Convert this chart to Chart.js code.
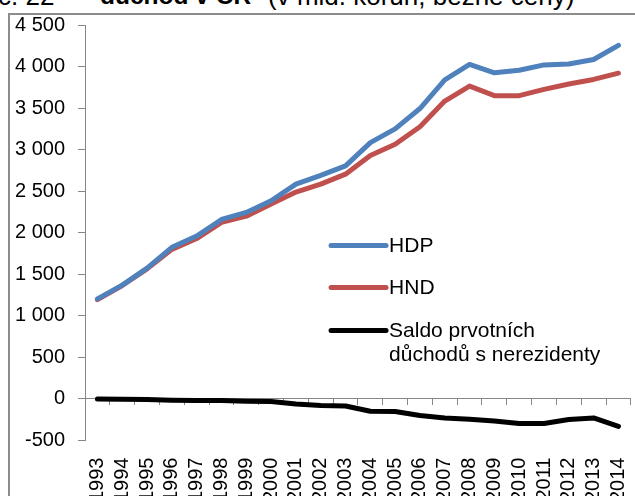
<!DOCTYPE html>
<html>
<head>
<meta charset="utf-8">
<script src="https://cdn.jsdelivr.net/npm/chart.js@4/dist/chart.umd.min.js"></script>
<style>
  html, body { margin: 0; padding: 0; background: #fff; width: 635px; height: 496px; overflow: hidden; }
  #wrap { position: relative; width: 635px; height: 496px; overflow: hidden; }
  #frame { position: absolute; left: 8px; top: 13px; width: 700px; height: 600px; border: 2px solid #8c8c8c; box-sizing: border-box; }
  #title { position: absolute; top: -17px; left: 0; width: 700px; height: 30px; font-family: 'Liberation Sans', Arial, sans-serif; font-size: 26px; line-height: 26px; white-space: nowrap; color: #000; }
  #title span { position: absolute; top: 0; }
  canvas { position: absolute; left: 0; top: 0; }
</style>
</head>
<body>
<div id="wrap">
  <div id="title"><span style="left:-2px">č. 22</span><span style="left:100px;font-weight:bold;font-size:24.5px">důchod v ČR</span><span style="left:268px">(v mld. korun, běžné ceny)</span></div>
  <div id="frame"></div>
  <canvas id="c" width="660" height="529"></canvas>
</div>
<script>
const years = ['1993','1994','1995','1996','1997','1998','1999','2000','2001','2002','2003','2004','2005','2006','2007','2008','2009','2010','2011','2012','2013','2014'];
const hdp = [1205, 1370, 1575, 1825, 1960, 2160, 2245, 2385, 2585, 2690, 2805, 3085, 3250, 3495, 3840, 4025, 3925, 3955, 4020, 4030, 4085, 4255];
const hnd = [1195, 1365, 1565, 1800, 1930, 2125, 2200, 2345, 2490, 2585, 2705, 2930, 3065, 3275, 3585, 3765, 3650, 3650, 3725, 3790, 3845, 3920];
const saldo = [0, -5, -8, -15, -18, -20, -28, -30, -60, -78, -85, -148, -150, -200, -228, -245, -265, -295, -295, -248, -228, -330];
const seriesLabels = ['HDP', 'HND', ['Saldo prvotních', 'důchodů s nerezidenty']];
const yMin = -500, yMax = 4500, yStep = 500;

const FONT = "'Liberation Sans', Arial, sans-serif";
const AXIS = '#868686';

const inlineLegend = {
  id: 'inlineLegend',
  afterDatasetsDraw(chart) {
    const ctx = chart.ctx, a = chart.chartArea;
    const x0 = a.left + 246, x1 = x0 + 55;
    const rowY = [a.top + 220.5, a.top + 262.5, a.top + 305.5];
    ctx.save();
    chart.data.datasets.forEach((ds, i) => {
      const y = rowY[i];
      ctx.strokeStyle = ds.borderColor;
      ctx.lineWidth = 5;
      ctx.lineCap = 'round';
      ctx.beginPath(); ctx.moveTo(x0, y); ctx.lineTo(x1, y); ctx.stroke();
      ctx.fillStyle = '#000';
      ctx.font = '21px ' + FONT;
      ctx.textBaseline = 'middle';
      ctx.textAlign = 'left';
      const lines = Array.isArray(ds.label) ? ds.label : [ds.label];
      lines.forEach((t, j) => ctx.fillText(t, x1 + 3, y + 1 + j * 23.5));
    });
    ctx.restore();
  }
};

const fmt = v => String(v).replace(/\B(?=(\d{3})+(?!\d))/g, ' ');

new Chart(document.getElementById('c'), {
  type: 'line',
  data: {
    labels: years,
    datasets: [
      { label: seriesLabels[0], data: hdp, borderColor: '#4F81BD', backgroundColor: '#4F81BD' },
      { label: seriesLabels[1], data: hnd, borderColor: '#C0504D', backgroundColor: '#C0504D' },
      { label: seriesLabels[2], data: saldo, borderColor: '#000000', backgroundColor: '#000000' }
    ]
  },
  options: {
    responsive: false,
    devicePixelRatio: 1,
    animation: false,
    events: [],
    layout: { padding: { left: 2, top: 21.5, right: 25.5, bottom: 10 } },
    elements: {
      line: { borderWidth: 5, tension: 0, borderCapStyle: 'round', borderJoinStyle: 'round' },
      point: { radius: 0 }
    },
    plugins: { legend: { display: false }, tooltip: { enabled: false }, title: { display: false } },
    scales: {
      x: {
        type: 'category',
        offset: true,
        position: 'bottom',
        border: { display: false },
        grid: { display: false, drawTicks: false },
        ticks: { autoSkip: false, maxRotation: 90, minRotation: 90, padding: 17, color: '#000', font: { family: FONT, size: 20 } }
      },
      x2: {
        type: 'category',
        labels: years,
        offset: true,
        position: { y: 0 },
        border: { display: true, color: AXIS, width: 1 },
        grid: { drawOnChartArea: false, drawTicks: true, tickLength: 6, color: AXIS, offset: true },
        ticks: { display: false }
      },
      y: {
        min: yMin, max: yMax,
        border: { display: true, color: AXIS, width: 1 },
        grid: { drawOnChartArea: false, drawTicks: true, tickLength: 7, color: AXIS },
        ticks: { stepSize: yStep, padding: 13, color: '#000', font: { family: FONT, size: 20 }, callback: v => fmt(v) }
      }
    }
  },
  plugins: [inlineLegend]
});
</script>
</body>
</html>
